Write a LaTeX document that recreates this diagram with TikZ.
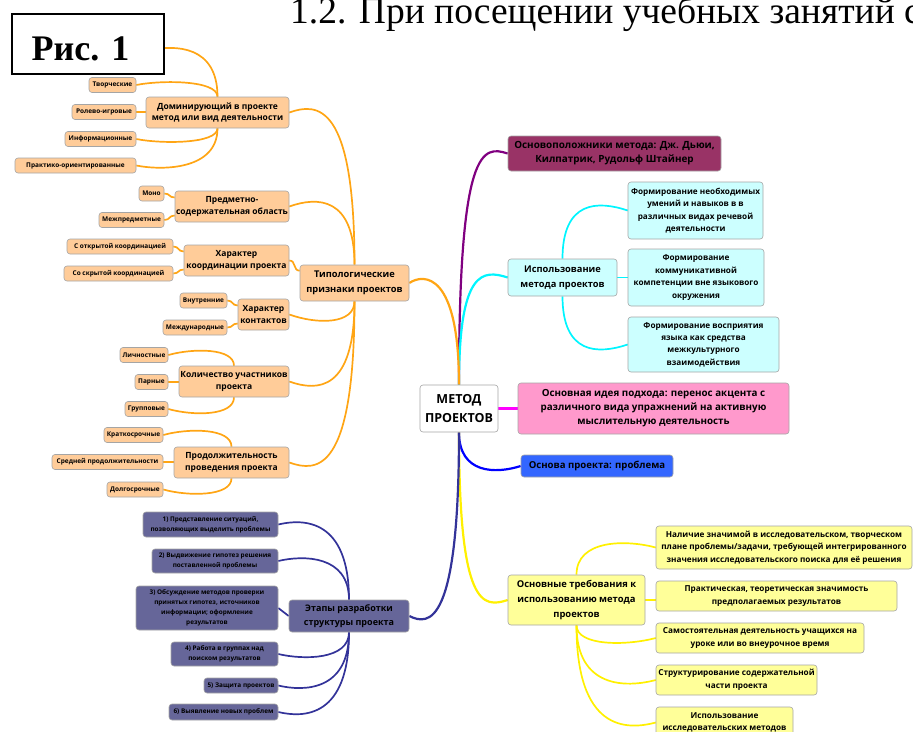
\documentclass[tikz,border=0pt]{standalone}
\usepackage{fontspec}
\setmainfont{Open Sans}
\newfontfamily\timesf{Liberation Serif}
\usetikzlibrary{calc}
\pgfdeclarelayer{bg}
\pgfsetlayers{bg,main}
\definecolor{orline}{RGB}{255,165,20}
\definecolor{orfill}{RGB}{255,204,153}
\definecolor{cyline}{RGB}{0,245,255}
\definecolor{cyfill}{RGB}{204,255,255}
\definecolor{puline}{RGB}{128,0,128}
\definecolor{pufill}{RGB}{153,51,102}
\definecolor{pkline}{RGB}{255,0,255}
\definecolor{pkfill}{RGB}{255,153,204}
\definecolor{blline}{RGB}{0,0,255}
\definecolor{blfill}{RGB}{51,102,255}
\definecolor{yeline}{RGB}{255,240,0}
\definecolor{yefill}{RGB}{255,255,153}
\definecolor{nvline}{RGB}{51,51,153}
\definecolor{nvfill}{RGB}{102,102,153}
\definecolor{bdr}{RGB}{165,165,165}
\newcommand\fsz[2]{\fontsize{#1}{#2}\selectfont\bfseries}
\newcommand\mmcurve[4]{\draw (#1) .. controls ($(#1 |- #2)+(0,#3)$) and ($(#2)+(#4,#3)$) .. (#2);}
\begin{document}
\begin{tikzpicture}[x=1pt,y=-1pt,
  box/.style={draw=bdr, rounded corners=3pt, line width=0.6pt, inner sep=1pt, align=center, text=black},
  orbox/.style={box, fill=orfill},
  orleaf/.style={orbox, minimum height=15pt, font=\fsz{6.5}{8}},
  orsub/.style={orbox, minimum height=31pt, font=\fsz{8.5}{11.7}},
  cybox/.style={box, fill=cyfill, font=\fsz{8.2}{12.4}},
  yebox/.style={box, fill=yefill, font=\fsz{8.2}{12.7}},
  nvbox/.style={box, fill=nvfill, font=\fsz{6.4}{10}},
  mainline/.style={line width=2.2pt},
  subline/.style={line width=1.7pt}]
\useasboundingbox (0,0) rectangle (913,731);

% title (cut off at top of page)
\node[anchor=base west, inner sep=0, font=\timesf\fontsize{37.5}{37.5}\selectfont] (title) at (290,23) {1.2. При посещении учебных занятий с};

% central
\node[box, fill=white, minimum width=78pt, minimum height=47pt, font=\fsz{12.5}{19}] (c) at (459,408.5) {МЕТОД\\ПРОЕКТОВ};

% right side
\node[box, fill=pufill, minimum width=213pt, minimum height=35pt, font=\fsz{9.9}{14}] (pu) at (614.5,153.5) {Основоположники метода: Дж. Дьюи,\\Килпатрик, Рудольф Штайнер};
\node[box, fill=cyfill, minimum width=109pt, minimum height=37pt, font=\fsz{9.3}{15}] (cy) at (562.5,277.5) {Использование\\метода проектов};
\node[cybox, minimum width=135pt, minimum height=57pt] (c1) at (695.5,210.5) {Формирование необходимых\\умений и навыков в в\\различных видах речевой\\деятельности};
\node[cybox, minimum width=136pt, minimum height=57pt] (c2) at (696,277.5) {Формирование\\коммуникативной\\компетенции вне языкового\\окружения};
\node[cybox, minimum width=151pt, minimum height=55pt] (c3) at (703.5,344.5) {Формирование восприятия\\языка как средства\\межкультурного\\взаимодействия};
\node[box, fill=pkfill, minimum width=271pt, minimum height=51pt, font=\fsz{9.8}{14}] (pk) at (653.5,408.5) {Основная идея подхода: перенос акцента с\\различного вида упражнений на активную\\мыслительную деятельность};
\node[box, fill=blfill, minimum width=152pt, minimum height=22pt, font=\fsz{9.6}{12}] (bl) at (597,466) {Основа проекта: проблема};
\node[box, fill=yefill, minimum width=137pt, minimum height=50pt, font=\fsz{9.4}{15}] (ye) at (576.5,600) {Основные требования к\\использованию метода\\проектов};
\node[yebox, minimum width=256pt, minimum height=43pt] (y1) at (784,547.5) {Наличие значимой в исследовательском, творческом\\плане проблемы/задачи, требующей интегрированного\\значения исследовательского поиска для её решения};
\node[yebox, minimum width=241pt, minimum height=30pt] (y2) at (776.5,596) {Практическая, теоретическая значимость\\предполагаемых результатов};
\node[yebox, minimum width=208pt, minimum height=30pt] (y3) at (760,638) {Самостоятельная деятельность учащихся на\\уроке или во внеурочное время};
\node[yebox, minimum width=161pt, minimum height=30pt] (y4) at (736.5,680) {Структурирование содержательной\\части проекта};
\node[yebox, minimum width=137pt, minimum height=31pt] (y5) at (724.5,722.5) {Использование\\исследовательских методов};

% left side: typology
\node[orbox, minimum width=109pt, minimum height=36pt, font=\fsz{9.3}{15}] (typ) at (354.5,283) {Типологические\\признаки проектов};
\node[orsub, minimum width=143pt] (d1) at (217.5,112.5) {Доминирующий в проекте\\метод или вид деятельности};
\node[orsub, minimum width=114pt] (d2) at (232,206.5) {Предметно-\\содержательная область};
\node[orsub, minimum width=105pt] (d3) at (236.5,260.5) {Характер\\координации проекта};
\node[orsub, minimum width=51pt] (d4) at (263.5,314.5) {Характер\\контактов};
\node[orsub, minimum width=110pt] (d5) at (234,381.5) {Количество участников\\проекта};
\node[orsub, minimum width=115pt] (d6) at (231.5,462.5) {Продолжительность\\проведения проекта};

\node[orleaf, minimum width=47pt] (l11) at (112.5,85) {Творческие};
\node[orleaf, minimum width=64pt] (l12) at (104,112) {Ролево-игровые};
\node[orleaf, minimum width=71pt] (l13) at (100.5,139) {Информационные};
\node[orleaf, minimum width=121pt] (l14) at (75.5,165.5) {Практико-ориентированные};
\node[orleaf, minimum width=25pt] (l21) at (151.5,193.5) {Моно};
\node[orleaf, minimum width=65pt] (l22) at (131.5,220) {Межпредметные};
\node[orleaf, minimum width=106pt] (l31) at (120,246.5) {С открытой координацией};
\node[orleaf, minimum width=109pt] (l32) at (118.5,273.5) {Со скрытой координацией};
\node[orleaf, minimum width=47pt] (l41) at (203.5,300.5) {Внутренние};
\node[orleaf, minimum width=64pt] (l42) at (195,327.5) {Международные};
\node[orleaf, minimum width=48pt] (l51) at (144,355) {Личностные};
\node[orleaf, minimum width=33pt] (l52) at (151.5,382) {Парные};
\node[orleaf, minimum width=43pt] (l53) at (146.5,409) {Групповые};
\node[orleaf, minimum width=59pt] (l61) at (133.5,435) {Краткосрочные};
\node[orleaf, minimum width=111pt] (l62) at (107.5,462) {Средней продолжительности};
\node[orleaf, minimum width=56pt] (l63) at (135,489.5) {Долгосрочные};

% left side: stages
\node[box, fill=nvfill, minimum width=120pt, minimum height=32pt, font=\fsz{9}{14}] (et) at (349,616) {Этапы разработки\\структуры проекта};
\node[nvbox, minimum width=135pt, minimum height=25pt] (n1) at (210.5,524.5) {1) Представление ситуаций,\\позволяющих выделить проблемы};
\node[nvbox, minimum width=126pt, minimum height=24pt] (n2) at (215,561) {2) Выдвижение гипотез решения\\поставленной проблемы};
\node[nvbox, minimum width=142pt, minimum height=44pt] (n3) at (207,608) {3) Обсуждение методов проверки\\принятых гипотез, источников\\информации; оформление\\результатов};
\node[nvbox, minimum width=107pt, minimum height=24pt] (n4) at (224.5,654) {4) Работа в группах над\\поиском результатов};
\node[nvbox, minimum width=74pt, minimum height=15pt] (n5) at (241,685.5) {5) Защита проектов};
\node[nvbox, minimum width=109pt, minimum height=16pt] (n6) at (223.5,712) {6) Выявление новых проблем};

\coordinate (hid) at (150,50);

% figure label box (covers part of the map)
\node[draw, line width=2pt, fill=white, minimum width=152pt, minimum height=60pt, inner sep=0] (ris) at (88,44) {};
\node[anchor=base, inner sep=0, font=\timesf\bfseries\fontsize{36}{36}\selectfont] (rislbl) at (80.5,60) {Рис. 1};

\begin{pgfonlayer}{bg}
% central branches
\begin{scope}[mainline]
\begin{scope}[puline]\mmcurve{c.north}{pu.west}{-8}{-25}\end{scope}
\begin{scope}[cyline]\mmcurve{c.north}{cy.west}{-8}{-25}\end{scope}
\begin{scope}[orline]\mmcurve{c.north}{typ.east}{-10}{15}\end{scope}
\draw[pkline] (c.east) -- (pk.west);
\begin{scope}[blline]\mmcurve{c.south}{bl.west}{8}{-25}\end{scope}
\begin{scope}[yeline]\mmcurve{c.south}{ye.west}{8}{-25}\end{scope}
\begin{scope}[nvline]\mmcurve{c.south}{et.east}{10}{20}\end{scope}
\end{scope}
% typology
\begin{scope}[subline, orline]
\mmcurve{typ.north}{d1.east}{-10}{28}
\mmcurve{typ.north}{d2.east}{-10}{28}
\draw (d3.east) .. controls +(7,0) and +(-7,0) .. ($(typ.north west)+(0,6)$);
\mmcurve{typ.south}{d4.east}{10}{28}
\mmcurve{typ.south}{d5.east}{10}{28}
\mmcurve{typ.south}{d6.east}{10}{28}
\mmcurve{d1.north}{hid}{-5}{25}
\mmcurve{d1.north}{l11.east}{-5}{25}
\draw (l12.east) -- (l12.east -| d1.west);
\mmcurve{d1.south}{l13.east}{5}{25}
\mmcurve{d1.south}{l14.east}{5}{25}
\draw (l21.east) .. controls +(6,0) and +(-6,0) .. ($(d2.west)+(0,-9)$);
\draw (l22.east) .. controls +(6,0) and +(-6,0) .. ($(d2.west)+(0,9)$);
\draw (l31.east) .. controls +(6,0) and +(-6,0) .. ($(d3.west)+(0,-9)$);
\draw (l32.east) .. controls +(6,0) and +(-6,0) .. ($(d3.west)+(0,9)$);
\draw (l41.east) .. controls +(6,0) and +(-6,0) .. ($(d4.west)+(0,-9)$);
\draw (l42.east) .. controls +(6,0) and +(-6,0) .. ($(d4.west)+(0,9)$);
\mmcurve{d5.north}{l51.east}{-7}{25}
\draw (l52.east) -- (l52.east -| d5.west);
\mmcurve{d5.south}{l53.east}{7}{25}
\mmcurve{d6.north}{l61.east}{-7}{25}
\draw (l62.east) -- (l62.east -| d6.west);
\mmcurve{d6.south}{l63.east}{7}{25}
\end{scope}
% cyan
\begin{scope}[subline, cyline]
\mmcurve{cy.north}{c1.west}{-10}{-30}
\draw (cy.east) -- (c2.west);
\mmcurve{cy.south}{c3.west}{10}{-30}
\end{scope}
% yellow
\begin{scope}[subline, yeline]
\mmcurve{ye.north}{y1.west}{-8}{-30}
\draw (ye.east) -- (ye.east -| y2.west);
\mmcurve{ye.south}{y3.west}{8}{-30}
\mmcurve{ye.south}{y4.west}{8}{-30}
\mmcurve{ye.south}{y5.west}{8}{-30}
\end{scope}
% stages
\begin{scope}[subline, nvline]
\mmcurve{et.north}{n1.east}{-6}{25}
\mmcurve{et.north}{n2.east}{-6}{25}
\draw (n3.east) -- (et.west);
\mmcurve{et.south}{n4.east}{6}{25}
\mmcurve{et.south}{n5.east}{6}{25}
\mmcurve{et.south}{n6.east}{6}{25}
\end{scope}
\end{pgfonlayer}
\end{tikzpicture}
\end{document}
